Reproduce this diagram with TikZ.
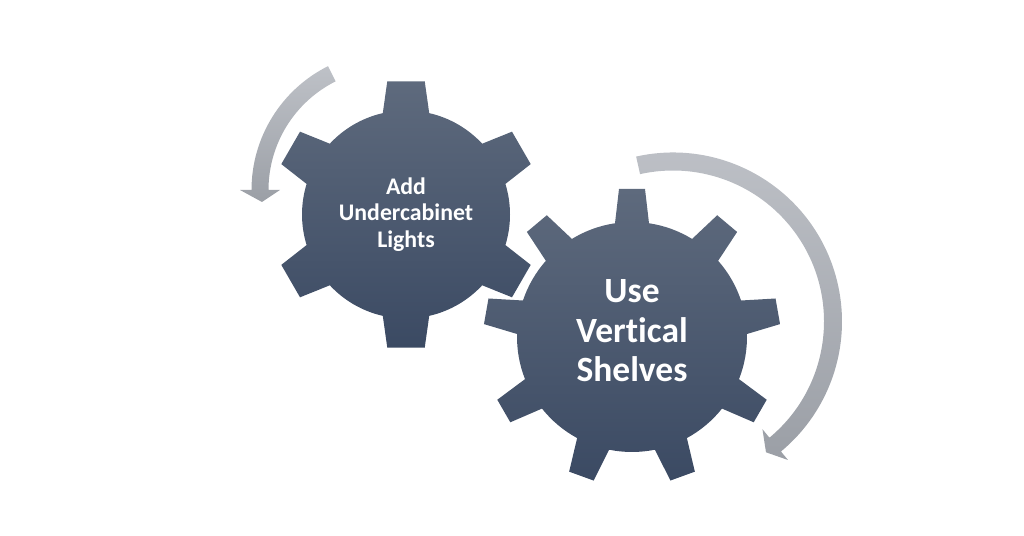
\documentclass[tikz,border=0pt]{standalone}
\usepackage{fontspec}
\setmainfont{Carlito}[Ligatures=NoCommon]
\usetikzlibrary{calc}
\definecolor{geartop}{HTML}{5E6A7D}
\definecolor{gearbot}{HTML}{3B4A63}
\definecolor{turntop}{HTML}{BEC1C7}
\definecolor{turnbot}{HTML}{9B9FA6}
\tikzset{gear/.style={top color=geartop,bottom color=gearbot,draw=none},
  turn/.style={top color=turntop,bottom color=turnbot,draw=none},
  geartext/.style={text=white,align=center}}

\begin{document}
\begin{tikzpicture}[x=1pt,y=1pt]
\useasboundingbox (0,0) rectangle (1024,535);
\coordinate (S) at (406,320.5);
\coordinate (B) at (632,198);
\coordinate (SA) at (390,345);
\coordinate (BA) at (673,213.5);
% turning arrows
\begin{scope}[shift={(SA)}]
\shade[turn] (116.6:121.5) -- (116.6:138.5) arc[start angle=116.6,end angle=180,radius=138.5] -- (180:150) -- (-128,-12) -- (180:110) -- (180:121.5) arc[start angle=180,end angle=116.6,radius=121.5] -- cycle;
\end{scope}
\begin{scope}[shift={(BA)}]
\shade[turn] (102.6:151) -- (102.6:169) arc[start angle=102.6,end angle=-50.3,radius=169] -- (-50.3:180) -- (93,-130.8) -- (-50.3:140) -- (-50.3:151) arc[start angle=-50.3,end angle=102.6,radius=151] -- cycle;
\end{scope}
% gears
\begin{scope}[shift={(S)}]
\shade[gear] (77.1:104) \foreach \a in {90,150,...,390} {-- (\a-8:134.5) -- (\a+8:134.5) -- (\a+12.9:104) arc[start angle=\a+12.9,end angle=\a+47.1,radius=104]} -- cycle;
\end{scope}
\begin{scope}[shift={(B)}]
\shade[gear] (81.5:115) \foreach \a in {90,130,...,410} {-- (\a-5.02:148.6) -- (\a+5.02:148.6) -- (\a+8.5:115) arc[start angle=\a+8.5,end angle=\a+31.5,radius=115]} -- cycle;
\end{scope}
\node[geartext,font=\bfseries\fontsize{23.8pt}{26.5pt}\selectfont] (lights) at (S) {Add\\Undercabinet\\Lights};
\node[geartext,font=\bfseries\fontsize{35.5pt}{39.5pt}\selectfont] (shelves) at ($(B)+(0,6)$) {Use\\Vertical\\Shelves};
\end{tikzpicture}
\end{document}
